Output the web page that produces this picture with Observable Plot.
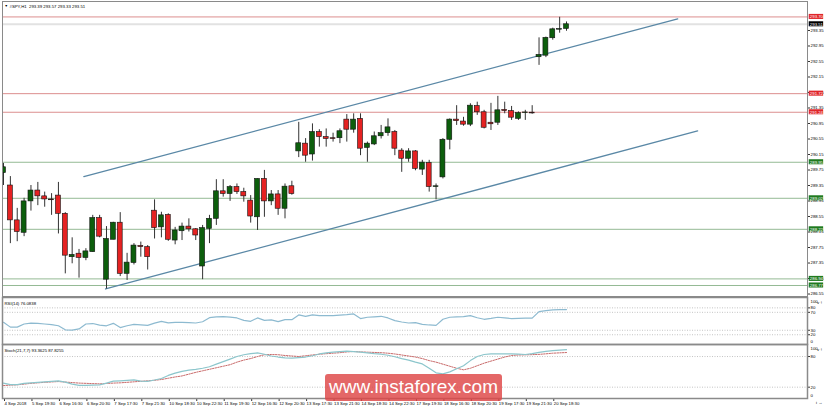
<!DOCTYPE html>
<html><head><meta charset="utf-8">
<script src="https://cdn.jsdelivr.net/npm/d3@7"></script>
<script src="https://cdn.jsdelivr.net/npm/@observablehq/plot@0.6"></script>
<style>
html,body{margin:0;padding:0;background:#fff;}
#chart{position:relative;width:825px;height:406px;overflow:hidden;font-family:"Liberation Sans",Arial,sans-serif;}
#chart svg{position:absolute;left:0;}
#wm{position:absolute;left:325px;top:374px;width:177px;height:27px;background:rgba(222,70,70,0.82);border-radius:3px;color:#fff;font:19px "Liberation Sans",Arial,sans-serif;text-align:center;line-height:26px;}
</style></head><body><div id="chart"></div>
<script>
// ---- data ----
const title = "#SPY,H1  293.39 293.57 293.33 293.51";
const opens  = [289.67,289.35,288.45,288.13,288.94,289.22,289.07,288.99,289.09,288.62,287.50,287.59,287.48,287.63,288.51,286.92,287.95,288.39,287.07,287.35,287.79,287.76,288.70,288.27,288.59,287.93,288.17,288.29,288.22,287.26,288.23,288.49,289.20,289.13,289.31,289.18,288.96,288.53,289.52,288.94,289.12,288.75,289.33,290.23,290.43,290.15,290.73,290.60,290.57,290.57,291.05,290.79,291.07,290.32,290.41,290.62,290.70,290.73,290.25,290.04,290.23,289.76,289.93,289.31,289.56,290.53,291.05,291.00,290.92,291.40,291.24,290.97,290.97,291.30,291.27,291.07,291.22,291.23,292.66,292.70,293.15,293.37,293.39];
const highs  = [289.92,289.58,288.76,289.02,289.35,289.43,289.18,289.14,289.43,288.65,288.00,287.70,287.72,288.58,288.58,288.29,288.40,288.65,287.60,287.85,287.89,287.80,288.98,288.66,288.62,288.27,288.38,288.49,288.24,288.32,288.58,289.50,289.50,289.35,289.39,289.28,289.09,289.52,289.74,289.22,289.22,289.39,289.46,290.98,290.56,290.94,290.79,290.81,290.70,290.81,291.18,291.20,291.20,290.47,290.73,290.90,291.07,290.77,290.30,290.30,290.25,290.00,290.00,289.39,290.56,291.07,291.41,291.11,291.46,291.50,291.29,291.47,291.65,291.50,291.39,291.25,291.29,291.41,293.16,293.18,293.41,293.69,293.57];
const lows   = [289.35,287.85,287.90,288.03,288.69,288.83,288.79,288.58,288.10,287.07,287.33,286.96,287.41,287.63,288.00,286.68,287.95,287.00,286.90,287.30,287.50,287.17,287.97,288.00,287.91,287.82,287.93,288.15,287.93,286.92,287.85,288.32,289.05,288.94,289.12,288.92,288.38,288.19,288.53,288.83,288.58,288.49,289.10,290.07,289.95,289.98,290.34,290.34,290.47,290.43,290.47,290.70,290.12,289.95,290.38,290.55,290.62,290.12,289.69,289.95,289.73,289.61,289.18,288.98,289.52,290.27,290.90,290.88,290.87,291.16,290.81,290.77,290.90,291.20,291.03,291.03,291.03,291.19,292.45,292.65,293.10,293.28,293.33];
const closes = [289.82,288.45,288.15,288.94,289.22,289.07,288.99,288.97,288.62,287.54,287.56,287.48,287.65,288.51,288.03,287.97,288.39,287.07,287.36,287.80,287.76,287.50,288.25,288.58,287.95,288.19,288.29,288.22,288.06,288.25,288.49,289.20,289.13,289.31,289.18,289.07,288.55,289.52,288.94,289.12,288.75,289.32,289.13,290.44,290.12,290.73,290.60,290.55,290.55,290.75,290.79,291.05,290.30,290.43,290.62,290.70,290.85,290.30,290.04,290.23,289.78,289.94,289.31,289.33,290.53,291.05,291.01,290.92,291.41,291.24,290.84,290.93,291.29,291.27,291.10,291.22,291.23,291.21,292.72,293.16,293.38,293.38,293.51];
const rsiLabel = "RSI(14) 76.0838";
const rsi = [47.7,37,37,44,46,45.5,44,42.5,40,31,30.5,33,44,45,41.5,40,45.5,36,40,43,42,41,46,50,46.5,47.7,47.7,47,46.2,49,58,60,60.5,59.5,57.5,52,50,57.5,52.2,53,49.2,53.7,53.7,64.3,61,64.3,62.7,62.7,62.7,64,65,66.5,56,59,60,61.2,57.5,51.5,48.5,46.2,47,43.2,41.8,41,54.5,59,60,60.5,62.7,58,54.5,56.5,59,57.5,56,56.7,57,57,71.7,74,75.5,76,76.08];
const stochLabel = "Stoch(21,7,7) 93.3625 87.8255";
const stochMain = [28,25,25,27.5,28.5,29.5,30.5,31.5,32.5,30,26,23.5,23.5,24,24.6,28,31.7,32.5,33.5,34.3,32,31.5,34,37,43,47.5,51,53.5,55,57,60,65,70,75,80,83.5,85.5,87,84.5,81,79,77.5,76.7,78,79,81.5,85,87,88.5,89.5,90.4,89.5,88.5,87,85.5,84.5,82.5,79.5,76,73,69,65.5,57,48,46,50,56,62,72,80,84,85.2,85.2,85.2,85.2,84.5,84,85.5,88,90,91.5,92.5,93.36];
const stochSignal = [23.2,24,24.6,26,27.5,28.5,29.5,30.3,31,30,29,28,27.5,27,26.5,27.2,28,28.5,29.5,30.5,31.5,32.5,33.5,35,37.5,40,42,45.5,49,52,55,58,61,64,69,73,76,80,83.5,84,83.5,82,81,80,81.5,83,84.5,85.5,86.5,87.5,89,89.8,89,88.5,88,87.5,86.5,85,83,81,79,76,72,69,65,61,57,54,57,62,67,71,75,79,82,83,83.3,83.7,84.2,85.3,86.5,87.2,87.83];
const timeLabels = ["4 Sep 2018","5 Sep 19:30","6 Sep 16:30","6 Sep 20:30","7 Sep 17:30","7 Sep 21:30","10 Sep 18:30","10 Sep 22:30","11 Sep 19:30","12 Sep 16:30","12 Sep 20:30","13 Sep 17:30","13 Sep 21:30","14 Sep 18:30","14 Sep 22:30","17 Sep 19:30","18 Sep 16:30","18 Sep 20:30","19 Sep 17:30","19 Sep 21:30","20 Sep 18:30"];
const priceTicks = [286.55,286.95,287.35,287.75,288.15,288.55,288.95,289.35,289.75,290.15,290.55,290.95,291.35,291.75,292.15,292.55,292.95,293.35];
const resistanceLevels = [293.70,291.72,291.24];
const supportLevels = [289.95,289.02,288.22,286.94,286.77];
const lastPrice = 293.51;
const upperChannelBars = [11.7,98.2];
const upperChannelPrices = [289.58,293.65];
const lowerChannelBars = [14.86,101.1];
const lowerChannelPrices = [286.68,290.76];
const rsiLevels = [80,70,30,20];
const rsiTicks = [0,20,30,70,80,100];
const stochLevels = [80,20];
const stochTicks = [0,20,80,100];

// ---- build ----
const W = 825, ML = 2, MR = 18;
const xDomain = [-0.146, 117.1];
const bars = opens.map((o,i)=>({i, o, h:highs[i], l:lows[i], c:closes[i]}));
const FONT = "Liberation Sans, Arial, sans-serif";
const FS = 4.3;
const boxX1 = xDomain[1] + 0.25, boxX2 = xDomain[1] + 2.35;
const channels = [
  ...upperChannelBars.map((b,k)=>({ch:"up", b, p:upperChannelPrices[k]})),
  ...lowerChannelBars.map((b,k)=>({ch:"lo", b, p:lowerChannelPrices[k]}))
];
const levelBoxes = [
  ...resistanceLevels.map(v=>({v, col:"#e0262a"})),
  ...supportLevels.map(v=>({v, col:"#1f7a1f"})),
  {v:lastPrice, col:"#000"}
];
const chart = document.getElementById("chart");
function place(svg, top){ svg.style.top = top+"px"; chart.appendChild(svg); }

// indicator axis: inner ticks via the axis; end labels (0 / 100) kept inside their panel
function indicatorAxis(ticks){
  const inner = ticks.filter(t=>t>0 && t<100);
  const top = ticks.filter(t=>t>=100), bottom = ticks.filter(t=>t<=0);
  return [
    Plot.axisY({anchor: "right", ticks: inner, tickSize: 2, tickPadding: 1, fontSize: FS, stroke: "#333"}),
    Plot.text(top, {frameAnchor: "right", y: d=>d, text: d=>String(d), dx: 3, dy: 2.4, textAnchor: "start", fontSize: FS, fill: "#000"}),
    Plot.text(bottom, {frameAnchor: "right", y: d=>d, text: d=>String(d), dx: 3, dy: -1.8, textAnchor: "start", fontSize: FS, fill: "#000"})
  ];
}

const price = Plot.plot({
  width: W, height: 297, marginLeft: ML, marginRight: MR, marginTop: 1, marginBottom: 1,
  x: {domain: xDomain, axis: null},
  y: {domain: [286.486, 294.098], axis: null},
  style: {background: "transparent", overflow: "visible", fontFamily: FONT},
  marks: [
    Plot.ruleY([lastPrice], {stroke: "#e2e2e2", strokeWidth: 2}),
    Plot.ruleY(resistanceLevels, {stroke: "#dc8e8e", strokeWidth: 1}),
    Plot.ruleY(supportLevels, {stroke: "#94ba94", strokeWidth: 1}),
    Plot.line(channels, {x: "b", y: "p", z: "ch", stroke: "#5a88a6", strokeWidth: 1.3}),
    Plot.ruleX(bars, {x: "i", y1: "l", y2: "h", stroke: "#333", strokeWidth: 1, clip: true}),
    Plot.rect(bars, {x1: d=>d.i-0.36, x2: d=>d.i+0.36, y1: "o", y2: d=> Math.abs(d.c-d.o)<0.015 ? d.o+0.015 : d.c,
      fill: d=> d.c>=d.o ? "#0c5e0c" : "#e52222", stroke: "#111", strokeWidth: 0.6, clip: true}),
    Plot.axisY({anchor: "right", ticks: priceTicks, tickFormat: d=>d.toFixed(2), tickSize: 2, tickPadding: 1, fontSize: FS, stroke:"#333"}),
    Plot.rect(levelBoxes, {x1: ()=>boxX1, x2: ()=>boxX2, y1: d=>d.v-0.065, y2: d=>d.v+0.065, fill: "col"}),
    Plot.text(levelBoxes, {x: ()=> (boxX1+boxX2)/2, y: "v", text: d=>d.v.toFixed(2), fill: "#fff", fontSize: FS, textAnchor: "middle"}),
    Plot.text([title], {frameAnchor: "top-left", dx: 7, dy: 3, fontSize: FS, fill: "#000"}),
    Plot.text(["\u25BC"], {frameAnchor: "top-left", dx: 2, dy: 3, fontSize: 3.5, fill: "#000"}),
    Plot.frame({stroke: "#8a8a8a"})
  ]
});
place(price, 0);

const rsiPlot = Plot.plot({
  width: W, height: 47, marginLeft: ML, marginRight: MR, marginTop: 0, marginBottom: 0,
  x: {domain: xDomain, axis: null},
  y: {domain: [0,100], range: [46.2, 1.4], axis: null},
  style: {background: "transparent", overflow: "visible", fontFamily: FONT},
  marks: [
    Plot.ruleY(rsiLevels, {stroke: "#b5b5b5", strokeDasharray: "1,1.5", strokeWidth: 0.8}),
    Plot.line(rsi.map((v,i)=>({i,v})), {x: "i", y: "v", stroke: "#8dbad0", strokeWidth: 1.2}),
    ...indicatorAxis(rsiTicks),
    Plot.text([rsiLabel], {frameAnchor: "top-left", dx: 2, dy: 4, fontSize: FS, fill: "#000"}),
    Plot.frame({stroke: "#8a8a8a", strokeWidth: 1.5})
  ]
});
place(rsiPlot, 297);

const labelBars = timeLabels.map((_,k)=>k*4);
const stochPlot = Plot.plot({
  width: W, height: 62, marginLeft: ML, marginRight: MR, marginTop: 0, marginBottom: 8,
  x: {domain: xDomain, axis: null},
  y: {domain: [0,100], range: [52.9, 1.8], axis: null},
  style: {background: "transparent", overflow: "visible", fontFamily: FONT},
  marks: [
    Plot.ruleY(stochLevels, {stroke: "#b5b5b5", strokeDasharray: "1,1.5", strokeWidth: 0.8}),
    Plot.line(stochSignal.map((v,i)=>({i,v})), {x: "i", y: "v", stroke: "#c96a6a", strokeDasharray: "1.5,1.2", strokeWidth: 1}),
    Plot.line(stochMain.map((v,i)=>({i,v})), {x: "i", y: "v", stroke: "#8cc6cc", strokeWidth: 1.2}),
    ...indicatorAxis(stochTicks),
    Plot.axisX({anchor: "bottom", ticks: labelBars, tickFormat: d=>timeLabels[d/4], tickSize: 3, tickPadding: 0, textAnchor: "start", dx: 1, fontSize: FS, stroke:"#333"}),
    Plot.text([stochLabel], {frameAnchor: "top-left", dx: 2, dy: 4, fontSize: FS, fill: "#000"}),
    Plot.frame({stroke: "#8a8a8a", strokeWidth: 1.5})
  ]
});
place(stochPlot, 344);

const wm = document.createElement("div");
wm.id = "wm"; wm.textContent = "www.instaforex.com";
chart.appendChild(wm);
</script></body></html>
